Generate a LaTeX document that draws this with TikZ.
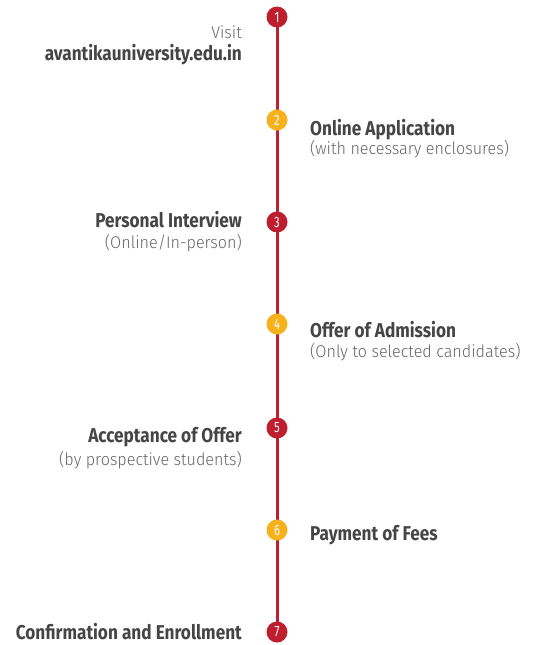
\documentclass[tikz,border=0pt]{standalone}
\usepackage{fontspec}
\setmainfont{Fira Sans}[FakeStretch=0.86]
\newfontfamily\lightfont{Fira Sans Light}[FakeStretch=0.95]
\newfontfamily\numfont{Fira Sans}[FakeStretch=0.75]
\definecolor{tred}{HTML}{BE1E2D}
\definecolor{tyel}{HTML}{F6B11B}
\definecolor{thead}{HTML}{454545}
\definecolor{tsub}{HTML}{666666}
\begin{document}
\begin{tikzpicture}[x=1pt,y=-1pt,
  dotred/.style={circle,fill=tred,minimum size=21pt,inner sep=0pt,text=white,font=\numfont\fontsize{15}{15}\selectfont},
  dotyel/.style={dotred,fill=tyel},
  head/.style={inner sep=0pt,text=thead,font=\fontsize{20}{20}\selectfont\bfseries},
  sub/.style={inner sep=0pt,text=tsub,font=\lightfont\fontsize{17}{17}\selectfont},
  lhead/.style={head,anchor=base east},
  rhead/.style={head,anchor=base west},
  lsub/.style={sub,anchor=base east},
  rsub/.style={sub,anchor=base west}]
\useasboundingbox (0,0) rectangle (540,645);
\fill[white] (0,0) rectangle (540,645);
\draw[tred,line width=3pt] (277,17) -- (277,632);
\node[dotred] (d1) at (277,17) {1};
\node[dotyel] (d2) at (277,120) {2};
\node[dotred] (d3) at (277,222) {3};
\node[dotyel] (d4) at (277,324) {4};
\node[dotred] (d5) at (277,428) {5};
\node[dotyel] (d6) at (277,530) {6};
\node[dotred] (d7) at (277,632) {7};
\node[lsub] (t1a) at (242,38) {Visit};
\node[lhead] (t1b) at (242,60) {avantikauniversity.edu.in};
\node[rhead] (t2a) at (310,135) {Online Application};
\node[rsub] (t2b) at (310,154) {(with necessary enclosures)};
\node[lhead] (t3a) at (242,227) {Personal Interview};
\node[lsub] (t3b) at (242,248) {(Online/In-person)};
\node[rhead] (t4a) at (310,337) {Offer of Admission};
\node[rsub] (t4b) at (310,357) {(Only to selected candidates)};
\node[lhead] (t5a) at (242,442) {Acceptance of Offer};
\node[lsub] (t5b) at (242,465) {(by prospective students)};
\node[rhead] (t6a) at (310,540) {Payment of Fees};
\node[lhead] (t7a) at (242,639) {Confirmation and Enrollment};
\end{tikzpicture}
\end{document}
